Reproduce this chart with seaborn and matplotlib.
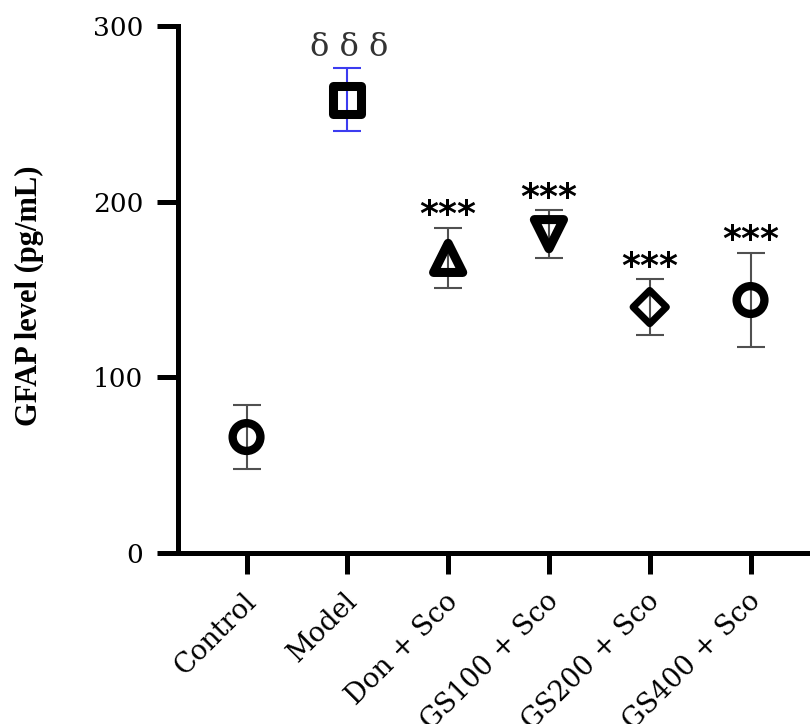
import numpy as np
import pandas as pd
import matplotlib
matplotlib.use("Agg")
import matplotlib.pyplot as plt
import matplotlib.transforms as mtransforms
import seaborn as sns

# Group means and standard deviations of GFAP (pg/mL)
groups = ["Control", "Model", "Don + Sco", "GS100 + Sco", "GS200 + Sco", "GS400 + Sco"]
means = [66, 258, 168, 181.5, 140, 144]
sds = [18, 18, 17, 13.5, 15.7, 27]
sig_marks = ["", "δ δ δ", "***", "***", "***", "***"]
y_ticks = [0, 100, 200, 300]

sns.set_theme(style="ticks")
plt.rcParams["font.family"] = ["DejaVu Serif", "DejaVu Sans"]
plt.rcParams["text.color"] = "black"
plt.rcParams["xtick.color"] = "black"
plt.rcParams["ytick.color"] = "black"
plt.rcParams["axes.labelcolor"] = "black"

df = pd.DataFrame({"group": groups, "mean": means, "sd": sds})

marker_map = {"Control": "o", "Model": "s", "Don + Sco": "^",
              "GS100 + Sco": "v", "GS200 + Sco": "D", "GS400 + Sco": "o"}
size_map = {"Control": 20 ** 2, "Model": 20 ** 2, "Don + Sco": 21 ** 2,
            "GS100 + Sco": 21 ** 2, "GS200 + Sco": 17 ** 2, "GS400 + Sco": 20 ** 2}
edge_widths = [6, 6.5, 6.5, 6.5, 5, 6]
bar_colors = ["#505050", "#3c3cf0", "#505050", "#505050", "#505050", "#505050"]

fig = plt.figure(figsize=(8.1, 7.24), dpi=100)
ax = fig.add_axes([178 / 810, 1 - 553 / 724, 632 / 810, 527 / 724])

sns.scatterplot(data=df, x="group", y="mean", style="group", markers=marker_map,
                size="group", sizes=size_map, legend=False, ax=ax, zorder=3)
pts = ax.collections[-1]
pts.set_facecolor("none")
pts.set_edgecolor("black")
pts.set_linewidths(edge_widths)

for g, m, s, c in zip(groups, means, sds, bar_colors):
    ax.errorbar([g], [m], yerr=[s], fmt="none", ecolor=c, elinewidth=1.5,
                capsize=10, capthick=1.5, zorder=2)

for g, m, s, t in zip(groups, means, sds, sig_marks):
    if not t:
        continue
    if t.startswith("δ"):
        ax.annotate(t, xy=(g, m + s), xytext=(1, 9), textcoords="offset points",
                    ha="center", va="baseline", fontsize=23, color="#333333",
                    family=["DejaVu Serif"])
    else:
        ax.annotate(t, xy=(g, m + s), xytext=(0, 2), textcoords="offset points",
                    ha="center", va="baseline", fontsize=26, fontweight="bold",
                    color="black", family=["DejaVu Sans"])

ax.set_ylim(0, 300)
ax.set_yticks(y_ticks)
ax.set_xlim(-0.68, 5.59)
ax.set_xlabel("")
ax.set_ylabel("GFAP level (pg/mL)", family=["Liberation Serif"], fontweight="bold",
              fontsize=22, va="center", color="black")
ax.yaxis.set_label_coords(-0.2358, 0.488)

sns.despine(ax=ax)
for side in ("left", "bottom"):
    ax.spines[side].set_linewidth(3.6)
    ax.spines[side].set_color("black")

ax.tick_params(axis="both", length=15, width=3.6, color="black", labelcolor="black")
ax.tick_params(axis="y", labelsize=19, pad=10)
ax.tick_params(axis="x", labelsize=19.5, pad=10)
shift = mtransforms.ScaledTranslation(-4 / 100, 0, fig.dpi_scale_trans)
for lab in ax.get_xticklabels():
    lab.set_rotation(45)
    lab.set_ha("right")
    lab.set_va("top")
    lab.set_rotation_mode("anchor")
    lab.set_transform(lab.get_transform() + shift)

fig.savefig("out.png", dpi=100)
